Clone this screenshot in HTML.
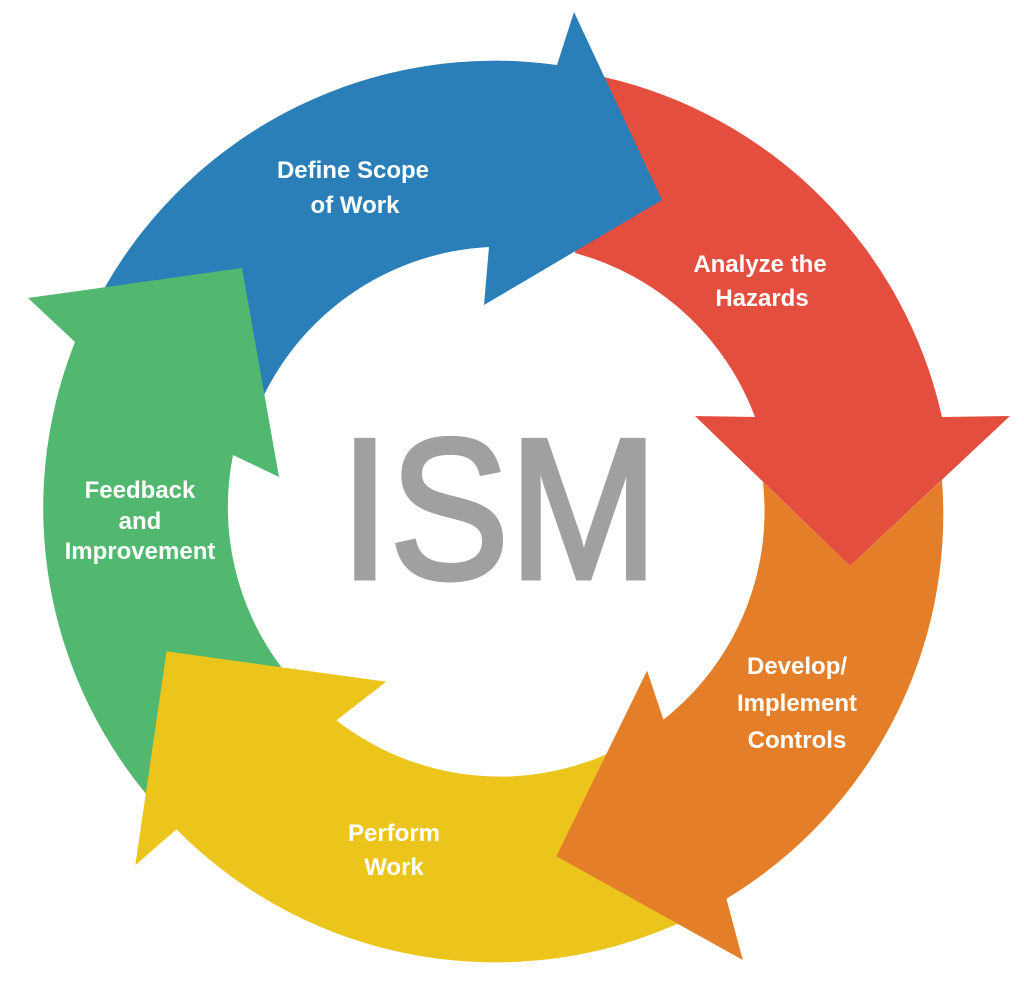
<!DOCTYPE html>
<html><head><meta charset="utf-8"><style>
html,body{margin:0;padding:0;background:#fff;}
svg{display:block}
.l{font-family:"Liberation Sans",sans-serif;font-weight:bold;font-size:24px;fill:#fff;text-anchor:middle}
</style></head><body>
<svg width="1024" height="994" viewBox="0 0 1024 994" xmlns="http://www.w3.org/2000/svg">
<rect width="1024" height="994" fill="#fff"/>
<path fill="#e34e3f" d="M604,77 A449,449 0 0 1 942,417 L1010,416 L850,566 L695,416 L755,417 A266,266 0 0 0 575,253 Z"/>
<path fill="#2a7fb8" d="M105,287 A449,449 0 0 1 557,65 L574,12 L662,200 L484,305 L489,247 A266,266 0 0 0 263,397 Z"/>
<path fill="#e47e28" d="M942,480 A449,449 0 0 1 726,899 L742,959 L557,856 L647,672 L663,720 A266,266 0 0 0 763,482 L850,566 Z"/>
<path fill="#ecc51c" d="M690,918 A449,449 0 0 1 176,829 L136,864 L167,652 L385,682 L336,720 A266,266 0 0 0 620,748 Z"/>
<path fill="#e47e28" stroke="#e47e28" stroke-width="1" d="M726,899 L742,959 L557,856 L647,672 L663,720 L620,748 L690,918 Z"/>
<path fill="#52b86f" d="M160,810 A449,449 0 0 1 75,342 L28,298 L242,268 L279,477 L233,455 A266,266 0 0 0 282,668 Z"/>
<path fill="#ecc51c" stroke="#ecc51c" stroke-width="1" d="M176,829 L136,864 L167,652 L385,682 L336,720 L300,760 L200,800 Z"/>
<text x="499" y="578" font-family="Liberation Sans,sans-serif" font-size="200" fill="#a0a0a0" stroke="#a0a0a0" stroke-width="5" textLength="318" lengthAdjust="spacingAndGlyphs" text-anchor="middle">ISM</text>
<text class="l" x="353" y="178">Define Scope</text>
<text class="l" x="355" y="213">of Work</text>
<text class="l" x="760" y="272">Analyze the</text>
<text class="l" x="762" y="306">Hazards</text>
<text class="l" x="140" y="498">Feedback</text>
<text class="l" x="140" y="529">and</text>
<text class="l" x="140" y="559">Improvement</text>
<text class="l" x="797" y="674">Develop/</text>
<text class="l" x="797" y="711">Implement</text>
<text class="l" x="797" y="748">Controls</text>
<text class="l" x="394" y="841">Perform</text>
<text class="l" x="394" y="875">Work</text>
</svg>
</body></html>
